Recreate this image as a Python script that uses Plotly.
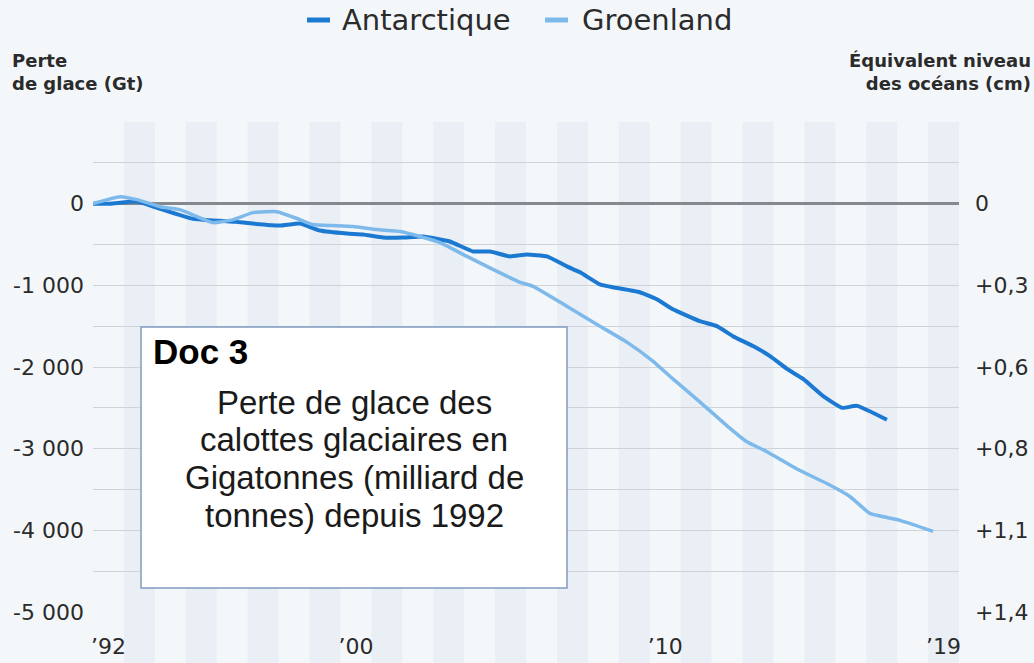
import plotly.graph_objects as go

# ---- data (fractional years, Gt) ----
ant_years = [1992.0, 1992.55, 1993.42, 1994.07, 1995.2, 1995.88, 1996.53, 1997.17, 1998.05,
             1998.69, 1999.34, 2000.21, 2000.73, 2001.38, 2002.02, 2002.67, 2003.54, 2004.29,
             2004.84, 2005.48, 2006.03, 2006.68, 2007.32, 2007.75, 2008.39, 2008.81, 2009.68,
             2010.23, 2010.75, 2011.62, 2012.17, 2012.69, 2013.34, 2013.89, 2014.44, 2014.96,
             2015.6, 2016.22, 2016.7, 2017.67]
ant_values = [0, 0, 25, -50, -183, -207, -220, -244, -268,
              -244, -329, -366, -378, -415, -415, -402, -463, -585,
              -585, -646, -622, -646, -768, -841, -988, -1024, -1085,
              -1171, -1293, -1439, -1500, -1622, -1744, -1866, -2024, -2146,
              -2354, -2500, -2476, -2646]

grl_years = [1992.0, 1992.87, 1993.42, 1994.17, 1994.81, 1995.88, 1996.53, 1997.17, 1997.95,
             1998.69, 1999.11, 1999.76, 2000.41, 2001.18, 2001.93, 2002.57, 2003.22, 2004.09,
             2004.93, 2005.81, 2006.23, 2007.32, 2008.39, 2009.26, 2010.1, 2010.75, 2011.62,
             2012.5, 2013.14, 2013.79, 2014.86, 2015.73, 2016.47, 2017.12, 2018.09, 2019.16]
grl_values = [0, 85, 49, -37, -73, -232, -195, -110, -98,
              -195, -256, -268, -280, -317, -341, -402, -476, -646,
              -805, -963, -1012, -1256, -1500, -1695, -1927, -2146, -2427,
              -2720, -2915, -3037, -3268, -3427, -3585, -3793, -3878, -4012]

x_tick_years = [1992, 2000, 2010, 2019]
x_tick_labels = ["\u201992", "\u201900", "\u201910", "\u201919"]
y_tick_vals = [0, -1000, -2000, -3000, -4000, -5000]
y_tick_left = ["0", "-1 000", "-2 000", "-3 000", "-4 000", "-5 000"]
y_tick_right = ["0", "+0,3", "+0,6", "+0,8", "+1,1", "+1,4"]
stripe_years = list(range(1993, 2020, 2))

box_lines = ["Perte de glace des", "calottes glaciaires en", "Gigatonnes (milliard de", "tonnes) depuis 1992"]

ANT_COLOR = "#1c79d2"
GRL_COLOR = "#7db9ea"
BG = "#f4f7fa"
STRIPE = "#eaeff5"
TXT = "#2b2b2b"
FONT = "DejaVu Sans"

# layout geometry (pixels)
W, H = 1034, 663
ML, MR, MT, MB = 93, 75, 122, 51
PW, PH = W - ML - MR, H - MT - MB


def px(xp):
    return (xp - ML) / PW


def py(yp):
    return (H - MB - yp) / PH


fig = go.Figure()
fig.add_trace(go.Scatter(x=ant_years, y=ant_values, mode="lines", name="Antarctique",
                         line=dict(color=ANT_COLOR, width=4, shape="spline", smoothing=0.4)))
fig.add_trace(go.Scatter(x=grl_years, y=grl_values, mode="lines", name="Groenland",
                         line=dict(color=GRL_COLOR, width=3.5, shape="spline", smoothing=0.4)))
# invisible trace to drive the right axis
fig.add_trace(go.Scatter(x=[ant_years[0]], y=[ant_values[0]], yaxis="y2", mode="markers",
                         marker=dict(opacity=0), showlegend=False, hoverinfo="skip"))

shapes = []
for yr in stripe_years:
    shapes.append(dict(type="rect", xref="x", yref="paper", x0=yr, x1=yr + 1, y0=-0.2, y1=1.0,
                       fillcolor=STRIPE, line=dict(width=0), layer="below"))

# text box
shapes.append(dict(type="rect", xref="paper", yref="paper", x0=px(141), x1=px(567), y0=py(588), y1=py(327),
                   fillcolor="white", line=dict(color="#7f9cc0", width=1.5), layer="above"))

# manual legend swatches
LEG_Y = py(20)
shapes.append(dict(type="line", xref="paper", yref="paper", x0=px(307), x1=px(330),
                   y0=LEG_Y, y1=LEG_Y, line=dict(color=ANT_COLOR, width=5)))
shapes.append(dict(type="line", xref="paper", yref="paper", x0=px(545), x1=px(568),
                   y0=LEG_Y, y1=LEG_Y, line=dict(color=GRL_COLOR, width=5)))

annotations = [
    dict(text="Antarctique", xref="paper", yref="paper", x=px(340), y=LEG_Y,
         xanchor="left", yanchor="middle", showarrow=False, font=dict(family=FONT, size=29, color=TXT)),
    dict(text="Groenland", xref="paper", yref="paper", x=px(580), y=LEG_Y,
         xanchor="left", yanchor="middle", showarrow=False, font=dict(family=FONT, size=29, color=TXT)),
    dict(text="<b>Perte<br>de glace (Gt)</b>", xref="paper", yref="paper", x=px(10),
         y=py(48), xanchor="left", yanchor="top", align="left", showarrow=False,
         font=dict(family=FONT, size=18, color=TXT)),
    dict(text="<b>Équivalent niveau<br>des océans (cm)</b>", xref="paper", yref="paper",
         x=px(1033), y=py(48), xanchor="right", yanchor="top", align="right",
         showarrow=False, font=dict(family=FONT, size=18, color=TXT)),
    dict(text="<b>Doc 3</b>", xref="paper", yref="paper", x=px(151), y=py(351),
         xanchor="left", yanchor="middle", showarrow=False,
         font=dict(family="Liberation Sans", size=35, color="black")),
]
for i, line in enumerate(box_lines):
    annotations.append(dict(text=line, xref="paper", yref="paper", x=px(354), y=py(402 + 37.7 * i),
                            xanchor="center", yanchor="middle", showarrow=False,
                            font=dict(family="Liberation Sans", size=33, color="#1a1a1a")))

grid_vals = list(range(-5000, 1001, 500))
fig.update_layout(
    width=W, height=H,
    margin=dict(l=ML, r=MR, t=MT, b=MB, autoexpand=False),
    paper_bgcolor=BG, plot_bgcolor=BG,
    showlegend=False,
    shapes=shapes, annotations=annotations,
    xaxis=dict(range=[1992, 2020], tickmode="array", tickvals=[y + 0.5 for y in x_tick_years],
               ticktext=x_tick_labels, showgrid=False, zeroline=False, showline=False, ticks="",
               automargin=False,
               tickfont=dict(family=FONT, size=22, color=TXT), ticklabelstandoff=19),
    yaxis=dict(range=[-5000, 1000], tickmode="array", tickvals=grid_vals,
               ticktext=[y_tick_left[y_tick_vals.index(v)] if v in y_tick_vals else "" for v in grid_vals],
               showgrid=True, gridcolor="#cfd3d8", gridwidth=1.2, automargin=False,
               zeroline=True, zerolinecolor="#85888c", zerolinewidth=2.5,
               showline=False, ticks="", tickfont=dict(family=FONT, size=22, color=TXT), ticklabelstandoff=8),
    yaxis2=dict(range=[-5000, 1000], overlaying="y", side="right", tickmode="array",
                tickvals=y_tick_vals, ticktext=y_tick_right, showgrid=False, zeroline=False,
                showline=False, ticks="", automargin=False, tickfont=dict(family=FONT, size=22, color=TXT),
                ticklabelstandoff=15),
)

fig.write_html("out.html", config={"displayModeBar": False},
               post_script="document.body.style.margin='0px';document.body.style.overflow='hidden';")
